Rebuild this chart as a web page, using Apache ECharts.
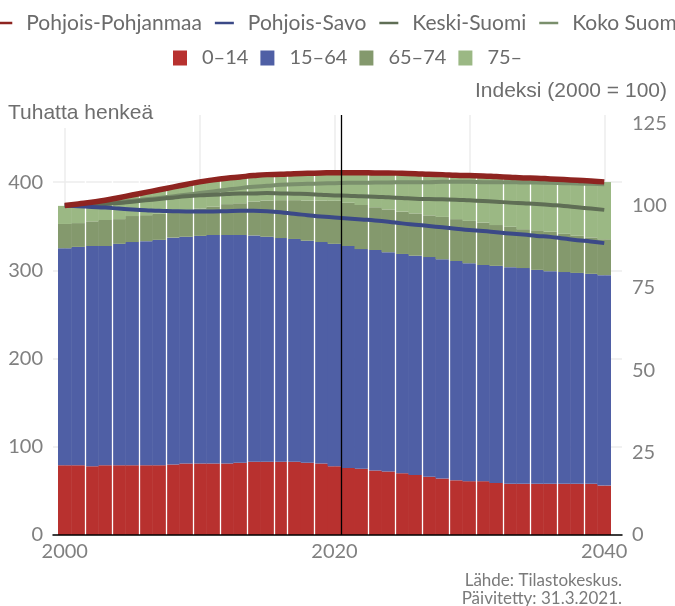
<!DOCTYPE html>
<html><head><meta charset="utf-8">
<script src="https://cdn.jsdelivr.net/npm/echarts@6/dist/echarts.min.js"></script>
<style>html,body{margin:0;padding:0;background:#fff}#chart{width:675px;height:606px}</style>
</head><body><div id="chart"></div>
<script>
// ---- data ----
const years = ['2000','2001','2002','2003','2004','2005','2006','2007','2008','2009','2010','2011','2012','2013','2014','2015','2016','2017','2018','2019','2020','2021','2022','2023','2024','2025','2026','2027','2028','2029','2030','2031','2032','2033','2034','2035','2036','2037','2038','2039','2040'];
// thousands of persons by age group (stacked bars)
const age0_14  = [79,79,78,79,79,79,79,79,80,81,81,81,81,82,83,83,83,83,82,81,78,76,75,73,72,70,68,66,64,62,61,61,59,58,58,58,58,58,58,58,56];
const age15_64 = [246,247.5,249.5,248.5,251,253,254,255.5,257,257,258,259,259,258,256.5,255,253.5,252.5,251.5,251,252,251.5,249,250,248.5,248.5,248.5,249,248.5,248.5,247,245,246,245.5,244.5,242.5,241,240,239,238,238.5];
const age65_74 = [27.5,27,28,29.5,28,29.5,29.5,29.5,29.5,29.5,31,32,35,36,38.5,41,43,44,45.5,47,48.8,49,50,48.5,48.5,48,48,47.3,48,47.5,48,48,46.3,45.8,44.1,44.9,44.7,43.3,42.1,41.3,40.7];
const age75    = [20.5,21.5,21.5,22,24,23.5,25.5,27,27.5,29.5,30,30,29,29.5,29,29,29,29.5,30.5,31,31.7,34,36.5,38.5,41,43,44.5,46.2,47.5,49.5,51,52.5,54.7,55.7,57.9,58.6,59.3,61.2,62.4,63.7,64.8];
// population index (2000 = 100)
const pohjoisPohjanmaa = [100,100.5,101,101.6,102.4,103.2,104,104.8,105.6,106.4,107.2,107.8,108.3,108.7,109.1,109.4,109.5,109.7,109.8,109.9,110,110,110,109.9,109.9,109.8,109.7,109.5,109.4,109.2,109.1,109,108.8,108.6,108.4,108.3,108.1,107.9,107.7,107.5,107.2];
const pohjoisSavo = [100,99.8,99.6,99.4,99.1,98.8,98.6,98.4,98.3,98.2,98.2,98.2,98.3,98.4,98.4,98.3,98,97.5,97.1,96.7,96.4,96.1,95.8,95.5,95.1,94.6,94.2,93.8,93.4,93,92.6,92.3,91.9,91.5,91.2,90.8,90.5,90,89.5,89.1,88.6];
const keskiSuomi = [100,100.1,100.3,100.5,100.8,101.2,101.6,102,102.4,102.8,103.1,103.3,103.5,103.7,103.7,103.8,103.7,103.6,103.5,103.3,103.1,103,102.8,102.7,102.5,102.3,102.1,102,101.9,101.8,101.6,101.4,101.2,100.9,100.7,100.5,100.2,99.9,99.5,99.1,98.7];
const kokoSuomi = [100,100.2,100.5,100.8,101.1,101.5,101.9,102.3,102.8,103.3,103.8,104.3,104.8,105.3,105.7,106,106.3,106.5,106.6,106.7,106.8,106.9,106.9,107,107,107.1,107.1,107.1,107.2,107.2,107.2,107.1,107.1,107.1,107,107,106.9,106.8,106.7,106.6,106.5];
// tick labels
const xTickLabels = ['2000', '2020', '2040'];
const xGridYears = [2000, 2010, 2020, 2030, 2040];
const leftTicks = [0, 100, 200, 300, 400];
const rightTicks = [0, 25, 50, 75, 100, 125];
const barNames = ['0–14', '15–64', '65–74', '75–'];
const lineNames = ['Pohjois-Pohjanmaa', 'Pohjois-Savo', 'Keski-Suomi', 'Koko Suomi'];

// ---- presentation ----
const LEFT_MAX = 476, RIGHT_MAX = 127.5;
const YR_MIN = 1999.5, YR_MAX = 2040.5;   // outer edges of first / last bar
const whiteSeams = [2001.5,2003.5,2005.5,2007.5,2009.5,2011.5,2013.5,2015.5,2016.5,2018.5,2022.5,2024.5,2026.5,2028.5,2030.5,2032.5,2034.5,2036.5,2038.5];
const forecastStart = [2020.5];
const barColors = ['#b8312f', '#4f5fa5', '#84996d', '#9bb884'];
const lineColors = ['#8e2420', '#3b4987', '#5f6e55', '#7a8f6c'];
const lineWidths = [5.5, 4, 4, 4];
const gray = '#808080';
const fontTick = {color: gray, fontSize: 20, fontFamily: 'Lato'};
const fontLegend = {fontFamily: 'Lato', fontSize: 20, color: '#6b6b6b', lineHeight: 24, padding: [0, 0, 0, 10]};

const yearLineAxis = (values, color, width, z) => ({
  gridIndex: 0, type: 'value', min: YR_MIN, max: YR_MAX, position: 'bottom', z: z,
  axisLine: {show: false}, axisLabel: {show: false},
  axisTick: {show: false, customValues: values},
  splitLine: {show: true, lineStyle: {color: color, width: width}}
});

const barData = [age0_14, age15_64, age65_74, age75];
const lineData = [pohjoisPohjanmaa, pohjoisSavo, keskiSuomi, kokoSuomi];

const series = [];
barNames.forEach((n, i) => series.push({
  name: n, type: 'bar', stack: 'pop', xAxisIndex: 0, yAxisIndex: 0,
  barWidth: 14, data: barData[i], color: barColors[i],
  itemStyle: {color: barColors[i]}, emphasis: {disabled: true}, z: 2
}));
lineNames.forEach((n, i) => series.push({
  name: n, type: 'line', xAxisIndex: 0, yAxisIndex: 1,
  data: lineData[i], color: lineColors[i], showSymbol: false, symbol: 'none',
  smooth: true, lineStyle: {width: lineWidths[i], color: lineColors[i]},
  emphasis: {disabled: true}, z: 10 + (3 - i)
}));

const chart = echarts.init(document.getElementById('chart'));
chart.setOption({
  animation: false,
  textStyle: {fontFamily: 'Lato'},
  title: [
    {text: 'Tuhatta henkeä', left: 4, top: 98, padding: [3, 4], backgroundColor: '#fff', z: 8,
     textStyle: {fontFamily: 'Liberation Sans', fontSize: 21, fontWeight: 'normal', color: '#6e6e6e', lineHeight: 24}},
    {text: 'Indeksi (2000 = 100)', right: 8, top: 79, padding: 0,
     textStyle: {fontFamily: 'Liberation Sans', fontSize: 21, fontWeight: 'normal', color: '#6e6e6e', lineHeight: 24}},
    {text: 'Lähde: Tilastokeskus.', right: 53, top: 572, padding: 0,
     textStyle: {fontFamily: 'Lato', fontSize: 17, fontWeight: 'normal', color: '#7a7a7a', lineHeight: 18}},
    {text: 'Päivitetty: 31.3.2021.', right: 53, top: 590, padding: 0,
     textStyle: {fontFamily: 'Lato', fontSize: 17, fontWeight: 'normal', color: '#7a7a7a', lineHeight: 18}}
  ],
  legend: [
    {data: lineNames, top: 11, left: 'center', padding: [0, -100], icon: 'rect', itemWidth: 19, itemHeight: 2.5,
     itemGap: 13, selectedMode: false,
     textStyle: Object.assign({}, fontLegend, {fontSize: 21, padding: [0, 0, 0, 9]})},
    {data: barNames, top: 41, left: 168, icon: 'rect', itemWidth: 14, itemHeight: 15,
     itemGap: 12, selectedMode: false, textStyle: fontLegend}
  ],
  grid: [
    {left: 58, right: 64, top: 115, bottom: 71},   // bars and lines
    {left: 53, right: 53, top: 115, bottom: 71}    // axis frame, tick labels, horizontal grid
  ],
  xAxis: [
    {gridIndex: 0, type: 'category', data: years, boundaryGap: true, position: 'bottom', z: 0,
     axisLine: {show: false}, axisTick: {show: false}, splitLine: {show: false},
     axisLabel: Object.assign({margin: 7, interval: (i, v) => xTickLabels.indexOf(v) >= 0, showMinLabel: true, showMaxLabel: true}, fontTick)},
    yearLineAxis(xGridYears, '#ececec', 1.5, 0),
    yearLineAxis(whiteSeams, '#ffffff', 1.3, 5),
    yearLineAxis(forecastStart, '#000000', 1.3, 20),
    {gridIndex: 1, type: 'value', min: 0, max: 1, position: 'bottom', z: 20,
     axisLine: {show: true, onZero: false, lineStyle: {color: '#000', width: 1.5}},
     axisTick: {show: false}, axisLabel: {show: false}, splitLine: {show: false}}
  ],
  yAxis: [
    {gridIndex: 0, type: 'value', min: leftTicks[0], max: LEFT_MAX, show: false},
    {gridIndex: 0, type: 'value', min: rightTicks[0], max: RIGHT_MAX, show: false},
    {gridIndex: 1, type: 'value', min: leftTicks[0], max: LEFT_MAX, interval: 100, position: 'left', z: 1,
     axisLine: {show: false}, axisTick: {show: false},
     axisLabel: Object.assign({margin: 10, showMaxLabel: false}, fontTick),
     splitLine: {show: true, showMaxLine: false, lineStyle: {color: '#ececec', width: 1.5}}},
    {gridIndex: 1, type: 'value', min: rightTicks[0], max: RIGHT_MAX, interval: 25, position: 'right',
     axisLine: {show: false}, axisTick: {show: false},
     axisLabel: Object.assign({margin: 10, showMaxLabel: false}, fontTick),
     splitLine: {show: false}}
  ],
  series: series
});
</script></body></html>
